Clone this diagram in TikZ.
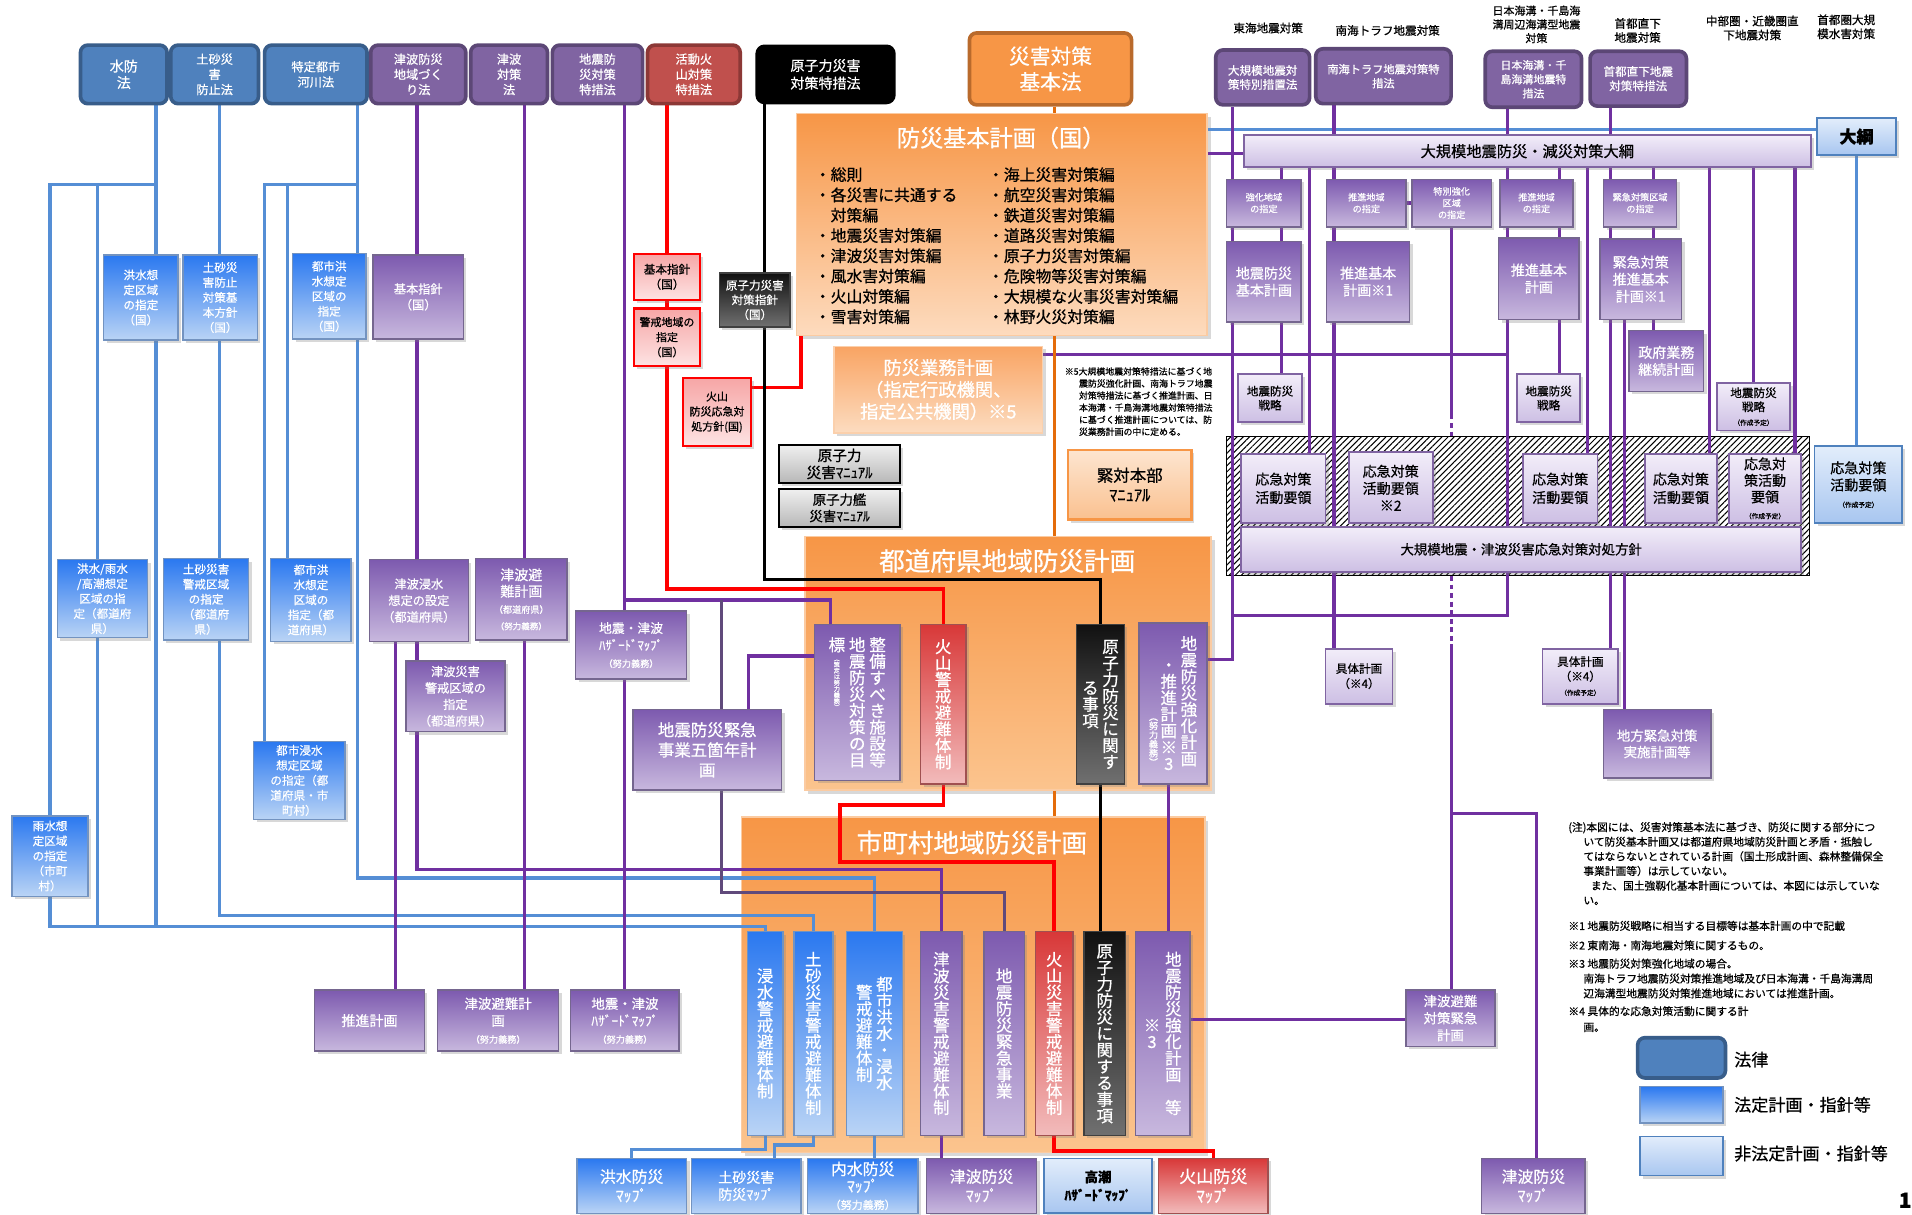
\documentclass[tikz,border=0pt]{standalone}
\usepackage{fontspec}
\setmainfont{Noto Sans CJK JP}[RawFeature={embolden=0.7}]
\usetikzlibrary{shadows,patterns.meta}
\pgfdeclarelayer{back}
\pgfdeclarelayer{wires}
\pgfsetlayers{back,wires,main}
\newcommand\fsz[2]{\fontsize{#1}{#2}\selectfont}
\makeatletter
% vertical (tategaki) columns: one character per 1em cell
\def\vt@end{\vt@end@}
\def\vt@loop#1{\ifx#1\vt@end\else\hbox to1em{\hss\vrule height.88em depth.12em width\z@\relax#1\hss}\expandafter\vt@loop\fi}
\newcommand\vcol[2][0em]{\vtop{\offinterlineskip\vskip#1\relax\vt@loop#2\vt@end}}
\newcommand\vcolhead[3]{\vtop{\offinterlineskip\vskip\z@\vt@loop#1\vt@end\kern2pt\hbox to1em{\hss{#2\vcol{#3}}\hss}}}
\makeatother
\newcommand\placebox[7]{\node[#2,minimum width={#5-#3},minimum height={#6-#4}] (#1) at ({(#3+#5)/2},{(#4+#6)/2}) {#7};}

\definecolor{lawBf}{HTML}{4F81BD}\definecolor{lawBd}{HTML}{385D8A}
\definecolor{lawPf}{HTML}{8064A2}\definecolor{lawPd}{HTML}{5C4776}
\definecolor{lawRf}{HTML}{C0504D}\definecolor{lawRd}{HTML}{8C3836}
\definecolor{lawOf}{HTML}{F79646}\definecolor{lawOd}{HTML}{B96A2C}
\definecolor{stBt}{HTML}{2A78F0}\definecolor{stBb}{HTML}{BAD4F5}\definecolor{stBd}{HTML}{7393C0}
\definecolor{stPt}{HTML}{7D5AAF}\definecolor{stPb}{HTML}{C8B8DE}\definecolor{stPd}{HTML}{75668F}
\definecolor{stRt}{HTML}{D83838}\definecolor{stRbot}{HTML}{F2BBBB}\definecolor{stRd}{HTML}{A05050}
\definecolor{stKt}{HTML}{111111}\definecolor{stKb}{HTML}{707070}
\definecolor{pkT}{HTML}{F6A6A6}\definecolor{pkB}{HTML}{FDE3E3}
\definecolor{nsPt}{HTML}{F2EDF9}\definecolor{nsPb}{HTML}{CDBFE4}\definecolor{nsPd}{HTML}{8064A2}
\definecolor{nsBt}{HTML}{E2EDFB}\definecolor{nsBb}{HTML}{A8C6F0}\definecolor{nsBd}{HTML}{4F81BD}
\definecolor{orT}{HTML}{F79646}\definecolor{orB}{HTML}{FBC48E}\definecolor{orBl}{HTML}{FDDBBE}
\definecolor{soT}{HTML}{F9A463}\definecolor{soB}{HTML}{FCDCC0}
\definecolor{moT}{HTML}{FDE5D0}\definecolor{moB}{HTML}{FAC190}
\definecolor{lnBc}{HTML}{558ED5}\definecolor{lnPc}{HTML}{7030A0}
\definecolor{lnPdc}{HTML}{604A7B}\definecolor{lnOc}{HTML}{E46C0A}

\tikzset{
  lawbase/.style={rounded corners=6pt,line width=3pt,text=white,align=center,inner sep=0pt,font=\fsz{10}{12.5}},
  lawB/.style={lawbase,draw=lawBd,fill=lawBf},
  lawP/.style={lawbase,draw=lawPd,fill=lawPf},
  lawR/.style={lawbase,draw=lawRd,fill=lawRf},
  lawK/.style={lawbase,draw=black,fill=black},
  lawO/.style={lawbase,draw=lawOd,fill=lawOf},
  sbase/.style={line width=1.2pt,align=center,inner sep=0pt,font=\fsz{9.5}{12.3},
    drop shadow={shadow xshift=2.5pt,shadow yshift=-2.5pt,opacity=.3}},
  stB/.style={sbase,draw=stBd,top color=stBt,bottom color=stBb,text=white},
  stP/.style={sbase,draw=stPd,top color=stPt,bottom color=stPb,text=white},
  stR/.style={sbase,draw=stRd,top color=stRt,bottom color=stRbot,text=white},
  stK/.style={sbase,draw=black!75,top color=stKt,bottom color=stKb,text=white},
  stPink/.style={sbase,draw=red,line width=1.8pt,top color=pkT,bottom color=pkB,text=black,font=\fsz{9.5}{12.3}},
  nsP/.style={sbase,draw=nsPd,line width=1.5pt,top color=nsPt,bottom color=nsPb,text=black},
  nsB/.style={sbase,draw=nsBd,line width=1.5pt,top color=nsBt,bottom color=nsBb,text=black},
  manK/.style={sbase,draw=black,line width=2pt,top color=black!6,bottom color=black!28,text=black},
  manO/.style={sbase,draw=lawOf,line width=2pt,top color=moT,bottom color=moB,text=black},
  softO/.style={sbase,draw=orT!45!white,top color=soT,bottom color=soB,text=white},
  bigO/.style={draw=orT!50!white,line width=1.2pt,top color=orT,bottom color=orB,
    drop shadow={shadow xshift=3pt,shadow yshift=-3pt,opacity=.3}},
  hatchst/.style={draw=black,line width=1pt,pattern={Lines[angle=45,distance=3.6pt,line width=0.85pt]}},
  lbl/.style={align=center,inner sep=0pt,font=\fsz{9.5}{11.5}},
  ttl/.style={text=white,inner sep=0pt},
  lnB/.style={draw=lnBc,line width=2.6pt},
  lnP/.style={draw=lnPc,line width=2.6pt},
  lnPd/.style={draw=lnPdc,line width=2.6pt},
  lnR/.style={draw=red,line width=2.8pt},
  lnK/.style={draw=black,line width=2.8pt},
  lnO/.style={draw=lnOc,line width=2.2pt},
  dashln/.style={dash pattern=on 4pt off 3pt}
}

\begin{document}
\begin{tikzpicture}[x=1pt,y=-1pt]
\useasboundingbox (0,0) rectangle (1568,996);

% ---------- large frames ----------
\begin{pgfonlayer}{back}
\fill[white] (0,0) rectangle (1568,996);
\placebox{kihonKeikaku}{bigO,bottom color=orBl}{653}{93}{990}{275}{}
\placebox{pref}{bigO}{660}{440}{993}{648}{}
\placebox{muni}{bigO}{608}{670}{988}{945}{}
\placebox{hatch}{hatchst}{1006}{358}{1484}{472}{}
\end{pgfonlayer}

% ---------- laws ----------
\placebox{lSuibo}{lawB,font=\fsz{11.5}{13.5}}{66}{37}{137}{85}{水防\\法}
\placebox{lDosha}{lawB}{140}{37}{212}{85}{土砂災\\害\\防止法}
\placebox{lToshi}{lawB}{217}{37}{301}{85}{特定都市\\河川法}
\placebox{lTsuChiiki}{lawP}{304}{37}{382}{85}{津波防災\\地域づく\\り法}
\placebox{lTsuTaisaku}{lawP}{386}{37}{449}{85}{津波\\対策\\法}
\placebox{lJishinTokuso}{lawP}{453}{37}{527}{85}{地震防\\災対策\\特措法}
\placebox{lKazan}{lawR}{531}{37}{607}{85}{活動火\\山対策\\特措法}
\placebox{lGenshi}{lawK,font=\fsz{11.5}{14.5}}{621}{38}{733}{84}{原子力災害\\対策特措法}
\placebox{lKihon}{lawO,font=\fsz{17}{21}}{795}{27}{928}{86}{災害対策\\基本法}
\placebox{lTokai}{lawP,font=\fsz{9.5}{11.5}}{997}{41}{1074}{86}{大規模地震対\\策特別措置法}
\placebox{lNankai}{lawP,font=\fsz{9.2}{11.5}}{1079}{40}{1190}{85}{南海トラフ地震対策特\\措法}
\placebox{lNihonkai}{lawP,font=\fsz{9}{11.6}}{1218}{42}{1297}{88}{日本海溝・千\\島海溝地震特\\措法}
\placebox{lShuto}{lawP,font=\fsz{9.5}{11.8}}{1304}{42}{1383}{87}{首都直下地震\\対策特措法}

\node[lbl] (tTokai) at (1040,23) {東海地震対策};
\node[lbl] (tNankai) at (1138,25) {南海トラフ地震対策};
\node[lbl,font=\fsz{9}{11.3}] (tNihonkai) at (1260,20) {日本海溝・千島海\\溝周辺海溝型地震\\対策};
\node[lbl] (tShuto) at (1343,25) {首都直下\\地震対策};
\node[lbl] (tChubu) at (1437,23) {中部圏・近畿圏直\\下地震対策};
\node[lbl] (tSuigai) at (1514,22) {首都圏大規\\模水害対策};

% ---------- national basic plan ----------
\node[ttl,font=\fsz{19}{22}] (kkTitle) at (821,113) {防災基本計画（国）};
\node[anchor=north west,align=left,inner sep=0pt,font=\fsz{13}{16.65}] (kkListL) at (668,137)
 {・総則\\・各災害に共通する\\\phantom{・}対策編\\・地震災害対策編\\・津波災害対策編\\・風水害対策編\\・火山対策編\\・雪害対策編};
\node[anchor=north west,align=left,inner sep=0pt,font=\fsz{13}{16.65}] (kkListR) at (810,137)
 {・海上災害対策編\\・航空災害対策編\\・鉄道災害対策編\\・道路災害対策編\\・原子力災害対策編\\・危険物等災害対策編\\・大規模な火事災害対策編\\・林野火災対策編};
\placebox{gyomu}{softO,font=\fsz{15}{18}}{684}{284}{855}{355}{防災業務計画\\（指定行政機関、\\指定公共機関）※5}
\node[anchor=north west,align=left,inner sep=0pt,font=\fsz{7.3}{9.9}] (note5) at (873,301)
 {※5大規模地震対策特措法に基づく地\\\hspace*{1.6em}震防災強化計画、南海トラフ地震\\\hspace*{1.6em}対策特措法に基づく推進計画、日\\\hspace*{1.6em}本海溝・千島海溝地震対策特措法\\\hspace*{1.6em}に基づく推進計画については、防\\\hspace*{1.6em}災業務計画の中に定める。};
\placebox{kintai}{manO,font=\fsz{13.5}{16}}{876}{369}{977}{426}{緊対本部\\ﾏﾆｭｱﾙ}

% ---------- national guidelines (left) ----------
\placebox{kozuiKoku}{stB}{85}{209}{146}{279}{洪水想\\定区域\\の指定\\（国）}
\placebox{doshaKoku}{stB}{150}{209}{211}{279}{土砂災\\害防止\\対策基\\本方針\\（国）}
\placebox{toshiKoku}{stB}{240}{208}{300}{278}{都市洪\\水想定\\区域の\\指定\\（国）}
\placebox{tsuKihon}{stP,font=\fsz{10}{13}}{306}{209}{380}{278}{基本指針\\（国）}
\placebox{kzKihon}{stPink}{520}{208}{574}{246}{基本指針\\（国）}
\placebox{kzKeikai}{stPink,font=\fsz{9}{12.3}}{520}{253}{574}{300}{警戒地域の\\指定\\（国）}
\placebox{kzOkyu}{stPink,font=\fsz{9}{12.3}}{560}{310}{616}{366}{火山\\防災応急対\\処方針(国)}
\placebox{gnShishin}{stK,font=\fsz{9.5}{12}}{590}{224}{648}{268}{原子力災害\\対策指針\\（国）}
\placebox{gnManual}{manK,font=\fsz{12}{14}}{639}{365}{738}{396}{原子力\\災害ﾏﾆｭｱﾙ}
\placebox{gnKan}{manK,font=\fsz{11}{13.5}}{639}{401}{738}{432}{原子力艦\\災害ﾏﾆｭｱﾙ}

% ---------- prefecture level (left) ----------
\placebox{kozuiPref}{stB}{47}{459}{121}{523}{洪水/雨水\\/高潮想定\\区域の指\\定（都道府\\県）}
\placebox{doshaPref}{stB}{134}{458}{204}{525}{土砂災害\\警戒区域\\の指定\\（都道府\\県）}
\placebox{toshiPref}{stB}{222}{458}{288}{526}{都市洪\\水想定\\区域の\\指定（都\\道府県）}
\placebox{toshiShinsui}{stB}{208}{608}{283}{672}{都市浸水\\想定区域\\の指定（都\\道府県・市\\町村）}
\placebox{usui}{stB}{10}{669}{72}{735}{雨水想\\定区域\\の指定\\（市町\\村）}
\placebox{tsuShinsui}{stP,font=\fsz{10}{13.5}}{303}{459}{384}{526}{津波浸水\\想定の設定\\（都道府県）}
\placebox{tsuHinanPref}{stP,font=\fsz{11.5}{13.5}}{390}{458}{465}{525}{津波避\\難計画\\{\fsz{7.5}{9.5}（都道府県）}\\{\fsz{7}{9}（努力義務）}}
\placebox{tsuKeikai}{stP,font=\fsz{10}{13.5}}{333}{542}{414}{600}{津波災害\\警戒区域の\\指定\\（都道府県）}
\placebox{hazPref}{stP,font=\fsz{10.5}{14}}{472}{501}{563}{557}{地震・津波\\ﾊｻﾞｰﾄﾞﾏｯﾌﾟ\\{\fsz{7.5}{9}（努力義務）}}
\placebox{gokanen}{stP,font=\fsz{13.5}{16.5}}{519}{582}{641}{648}{地震防災緊急\\事業五箇年計\\画}

% ---------- municipal level (left) ----------
\placebox{suishin}{stP,font=\fsz{11.5}{14}}{258}{812}{348}{862}{推進計画}
\placebox{tsuHinanMuni}{stP,font=\fsz{11}{14}}{359}{812}{458}{862}{津波避難計\\画\\{\fsz{7.5}{9}（努力義務）}}
\placebox{hazMuni}{stP,font=\fsz{11}{14}}{468}{812}{557}{862}{地震・津波\\ﾊｻﾞｰﾄﾞﾏｯﾌﾟ\\{\fsz{7.5}{9}（努力義務）}}

% ---------- prefectural plan ----------
\node[ttl,font=\fsz{21}{24}] (prefTitle) at (826,460) {都道府県地域防災計画};
\placebox{pMokuhyo}{stP,font=\fsz{13.5}{13.5}}{668}{512}{738}{640}{\hbox{\vcolhead{標}{\fsz{5}{5}}{︵策定は努力義務︶}\kern3.2pt\vcol{地震防災対策の目}\kern3.2pt\vcol{整備すべき施設等}}}
\placebox{pKazan}{stR,font=\fsz{13.5}{13.5}}{755}{512}{792}{643}{\vcol{火山警戒避難体制}}
\placebox{pGenshi}{stK,font=\fsz{13.5}{13.5}}{883}{512}{922}{643}{\hbox{\vcol[2.5em]{る事項}\kern3pt\vcol{原子力防災に関す}}}
\placebox{pKyoka}{stP,font=\fsz{13.5}{13.5}}{934}{511}{990}{643}{\hbox{{\fsz{7.5}{7.5}\vcol[8.4em]{︵努力義務︶}}\kern2pt\vcol[1.3em]{・推進計画※3}\kern3pt\vcol{地震防災強化計画}}}

% ---------- municipal plan ----------
\node[ttl,font=\fsz{21}{24}] (muniTitle) at (797,691) {市町村地域防災計画};
\placebox{mShinsui}{stB,font=\fsz{13.5}{13.5}}{613}{764}{642}{931}{\vcol{浸水警戒避難体制}}
\placebox{mDosha}{stB,font=\fsz{13.5}{13.5}}{651}{764}{683}{931}{\vcol{土砂災害警戒避難体制}}
\placebox{mToshi}{stB,font=\fsz{13.5}{13.5}}{694}{764}{740}{931}{\hbox{\vcol[0.5em]{警戒避難体制}\kern3pt\vcol{都市洪水・浸水}}}
\placebox{mTsunami}{stP,font=\fsz{13.5}{13.5}}{755}{764}{789}{931}{\vcol{津波災害警戒避難体制}}
\placebox{mGokanen}{stP,font=\fsz{13.5}{13.5}}{807}{764}{840}{931}{\vcol{地震防災緊急事業}}
\placebox{mKazan}{stR,font=\fsz{13.5}{13.5}}{849}{764}{880}{931}{\vcol{火山災害警戒避難体制}}
\placebox{mGenshi}{stK,font=\fsz{13.5}{13.5}}{889}{764}{923}{931}{\vcol{原子力防災に関する事項}}
\placebox{mKyoka}{stP,font=\fsz{13.5}{13.5}}{931}{764}{976}{931}{\hbox{\vcol[4em]{※3}\kern4pt\vcol{地震防災強化計画　等}}}

% ---------- hazard maps ----------
\placebox{mapKozui}{stB,font=\fsz{13}{15.5}}{473}{950}{563}{995}{洪水防災\\ﾏｯﾌﾟ}
\placebox{mapDosha}{stB,font=\fsz{11.5}{14}}{567}{950}{657}{995}{土砂災害\\防災ﾏｯﾌﾟ}
\placebox{mapNaisui}{stB,font=\fsz{13}{14}}{662}{950}{753}{995}{内水防災\\ﾏｯﾌﾟ\\{\fsz{9}{10}（努力義務）}}
\placebox{mapTsunami}{stP,font=\fsz{13}{15.5}}{760}{950}{850}{995}{津波防災\\ﾏｯﾌﾟ}
\placebox{mapTakashio}{nsB,font=\fsz{11}{15}\bfseries}{856}{950}{945}{995}{高潮\\ﾊｻﾞｰﾄﾞﾏｯﾌﾟ}
\placebox{mapKazan}{stR,font=\fsz{14}{16}}{950}{950}{1040}{995}{火山防災\\ﾏｯﾌﾟ}
\placebox{mapTsunami2}{stP,font=\fsz{13}{15.5}}{1215}{950}{1300}{995}{津波防災\\ﾏｯﾌﾟ}

% ---------- large-scale earthquake block (right) ----------
\placebox{taiko}{nsB,font=\fsz{14}{16}\bfseries}{1490}{97}{1555}{127}{大綱}
\placebox{taikoBar}{nsP,font=\fsz{12.5}{15}}{1020}{111}{1485}{137}{大規模地震防災・減災対策大綱}
\placebox{aShitei}{stP,font=\fsz{7.5}{9.6}}{1006}{147}{1067}{186}{強化地域\\の指定}
\placebox{aKihon}{stP,font=\fsz{11.5}{14}}{1006}{198}{1067}{264}{地震防災\\基本計画}
\placebox{aSenryaku}{nsP,font=\fsz{9.5}{11.5}}{1015}{307}{1068}{346}{地震防災\\戦略}
\placebox{bShitei}{stP,font=\fsz{7.5}{9.6}}{1088}{147}{1153}{186}{推進地域\\の指定}
\placebox{bTokubetsu}{stP,font=\fsz{7.5}{9.6}}{1158}{147}{1223}{186}{特別強化\\区域\\の指定}
\placebox{bKihon}{stP,font=\fsz{11.5}{14}}{1088}{198}{1156}{264}{推進基本\\計画※1}
\placebox{bGutai}{nsP,font=\fsz{9.5}{12.3}}{1087}{532}{1142}{577}{具体計画\\（※4）}
\placebox{cShitei}{stP,font=\fsz{7.5}{9.6}}{1230}{147}{1290}{186}{推進地域\\の指定}
\placebox{cKihon}{stP,font=\fsz{11.5}{14}}{1229}{195}{1295}{262}{推進基本\\計画}
\placebox{cSenryaku}{nsP,font=\fsz{9.5}{11.5}}{1244}{307}{1296}{346}{地震防災\\戦略}
\placebox{dShitei}{stP,font=\fsz{7.5}{9.6}}{1315}{147}{1375}{186}{緊急対策区域\\の指定}
\placebox{dKihon}{stP,font=\fsz{11.5}{14}}{1312}{196}{1379}{262}{緊急対策\\推進基本\\計画※1}
\placebox{dGyomu}{stP,font=\fsz{11.5}{14}}{1336}{271}{1397}{321}{政府業務\\継続計画}
\placebox{dGutai}{nsP,font=\fsz{9.5}{12}}{1265}{532}{1327}{577}{具体計画\\（※4）\\{\fsz{5.5}{7}（作成予定）}}
\placebox{dChiho}{stP,font=\fsz{11}{13.5}}{1315}{582}{1403}{638}{地方緊急対策\\実施計画等}
\placebox{eSenryaku}{nsP,font=\fsz{9.5}{11.5}}{1408}{314}{1468}{353}{地震防災\\戦略\\{\fsz{5.5}{7}（作成予定）}}
\placebox{h1}{nsP,font=\fsz{11.5}{15}}{1018}{372}{1087}{429}{応急対策\\活動要領}
\placebox{h2}{nsP,font=\fsz{11.5}{14}}{1106}{371}{1175}{429}{応急対策\\活動要領\\※2}
\placebox{h3}{nsP,font=\fsz{11.5}{15}}{1249}{372}{1310}{429}{応急対策\\活動要領}
\placebox{h4}{nsP,font=\fsz{11.5}{15}}{1349}{372}{1408}{429}{応急対策\\活動要領}
\placebox{h5}{nsP,font=\fsz{11.5}{13.5}}{1418}{372}{1477}{429}{応急対\\策活動\\要領\\{\fsz{5.5}{7}（作成予定）}}
\placebox{taisho}{nsP,font=\fsz{11}{13}}{1018}{432}{1477}{469}{大規模地震・津波災害応急対策対処方針}
\placebox{blueOkyu}{nsB,font=\fsz{11.5}{14}}{1488}{366}{1560}{429}{応急対策\\活動要領\\{\fsz{5.5}{7}（作成予定）}}
\placebox{tsuKinkyu}{stP,font=\fsz{11}{14}}{1153}{812}{1226}{858}{津波避難\\対策緊急\\計画}

% ---------- notes and legend ----------
\node[anchor=north west,align=left,inner sep=0pt,font=\fsz{8.8}{12}] (note0) at (1286,674)
 {(注)本図には、災害対策基本法に基づき、防災に関する部分につ\\\hspace*{1.4em}いて防災基本計画又は都道府県地域防災計画と矛盾・抵触し\\\hspace*{1.4em}てはならないとされている計画（国土形成計画、森林整備保全\\\hspace*{1.4em}事業計画等）は示していない。\\\hspace*{2.1em}また、国土強靱化基本計画については、本図には示していな\\\hspace*{1.4em}い。};
\node[anchor=north west,inner sep=0pt,font=\fsz{8.8}{12}] (note1) at (1286,755) {※1 地震防災戦略に相当する目標等は基本計画の中で記載};
\node[anchor=north west,inner sep=0pt,font=\fsz{8.8}{12}] (note2) at (1286,771) {※2 東南海・南海地震対策に関するもの。};
\node[anchor=north west,align=left,inner sep=0pt,font=\fsz{8.8}{12.2}] (note3) at (1286,786)
 {※3 地震防災対策強化地域の場合。\\\hspace*{1.4em}南海トラフ地震防災対策推進地域及び日本海溝・千島海溝周\\\hspace*{1.4em}辺海溝型地震防災対策推進地域においては推進計画。};
\node[anchor=north west,align=left,inner sep=0pt,font=\fsz{8.8}{13}] (note4) at (1286,825)
 {※4 具体的な応急対策活動に関する計\\\hspace*{1.4em}画。};
\placebox{legLaw}{lawB}{1343}{851}{1415}{884}{}
\placebox{legSt}{stB}{1345}{891}{1413}{921}{}
\placebox{legNs}{nsB}{1345}{932}{1413}{964}{}
\node[anchor=west,inner sep=0pt,font=\fsz{14}{16}] (legLawT) at (1422,869) {法律};
\node[anchor=west,inner sep=0pt,font=\fsz{14}{16}] (legStT) at (1422,906) {法定計画・指針等};
\node[anchor=west,inner sep=0pt,font=\fsz{14}{16}] (legNsT) at (1422,946) {非法定計画・指針等};
\node[anchor=north west,inner sep=0pt,font=\fsz{17}{17}\bfseries] (pageNo) at (1557,978) {1};

% ---------- connectors ----------
\begin{pgfonlayer}{wires}
\coordinate (jSuibo) at (128,151);
\coordinate (jToshi) at (293,151);
\coordinate (jJishin) at (512,492);
\coordinate (jGokanen) at (592,492);
\coordinate (jTokai) at (1011,505);
\coordinate (jTokubetsu) at (1190,667);
% flood / sediment / urban river (blue)
\draw[lnB] (lSuibo.south -| jSuibo) -- (kozuiKoku.north -| jSuibo);
\draw[lnB] (usui.north) |- (jSuibo);
\draw[lnB] (kozuiPref.north -| 80,0) |- (jSuibo);
\draw[lnB] (kozuiKoku.south -| jSuibo) -- (128,760);
\draw[lnB] (kozuiPref.south -| 80,0) -- (80,760);
\draw[lnB] (usui.south) |- (mShinsui.north |- 0,760) -- (mShinsui.north);
\draw[lnB] (lDosha.south -| 180,0) -- (doshaKoku.north -| 180,0);
\draw[lnB] (doshaKoku.south -| 180,0) -- (doshaPref.north -| 180,0);
\draw[lnB] (doshaPref.south -| 180,0) |- (mDosha.north |- 0,751) -- (mDosha.north);
\draw[lnB] (lToshi.south -| jToshi) -- (toshiKoku.north -| jToshi);
\draw[lnB] (toshiShinsui.north -| 217,0) |- (jToshi);
\draw[lnB] (toshiPref.north -| 236,0) |- (jToshi);
\draw[lnB] (toshiKoku.south -| jToshi) |- (mToshi.north |- 0,720) -- (mToshi.north);
\draw[lnB] (mShinsui.south) |- (mapKozui.north |- 0,943) -- (mapKozui.north);
\draw[lnB] (mDosha.south) |- (635,939) -- (mapDosha.north -| 635,0);
\draw[lnB] (mToshi.south) -- (mapNaisui.north -| mToshi.south);
\draw[lnB] (kihonKeikaku.east |- 0,106) -- (taiko.west |- 0,106);
\draw[lnB] (taiko.south) -- (blueOkyu.north -| taiko.south);
% tsunami / earthquake (purple)
\draw[lnP] (lTsuChiiki.south -| 342,0) -- (tsuKihon.north -| 342,0);
\draw[lnP] (tsuKihon.south -| 342,0) -- (tsuShinsui.north -| 342,0);
\draw[lnP] (tsuShinsui.south -| 342,0) -- (tsuKeikai.north -| 342,0);
\draw[lnP] (tsuKeikai.south -| 342,0) |- (mTsunami.north |- 0,713) -- (mTsunami.north);
\draw[lnP] (tsuShinsui.south -| 324,0) -- (suishin.north -| 324,0);
\draw[lnP] (lTsuTaisaku.south -| 430,0) -- (tsuHinanPref.north -| 430,0);
\draw[lnP] (tsuHinanPref.south -| 430,0) -- (tsuHinanMuni.north -| 430,0);
\draw[lnP] (lJishinTokuso.south -| jJishin) -- (hazPref.north -| jJishin);
\draw[lnP] (hazPref.south -| jJishin) -- (hazMuni.north -| jJishin);
\draw[lnP] (jJishin) -| (pMokuhyo.north -| 681,0);
\draw[lnPd] (jGokanen) -- (gokanen.north -| jGokanen);
\draw[lnPd] (gokanen.south -| jGokanen) |- (mGokanen.north |- 0,732) -- (mGokanen.north);
\draw[lnP] (pMokuhyo.west |- 0,538) -| (gokanen.north -| 614,0);
\draw[lnP] (mTsunami.south) -- (mapTsunami.north -| mTsunami.south);
\draw[lnP] (pKyoka.south -| 958,0) -- (mKyoka.north -| 958,0);
\draw[lnP] (pKyoka.east |- 0,541) -| (lTokai.south -| jTokai);
\draw[lnP] (jTokai) -| (lNihonkai.south -| 1236,0);
\draw[lnP] (gyomu.east |- 0,291) -- (1236,291);
\draw[lnP] (kihonKeikaku.east |- 0,126) -- (taikoBar.west |- 0,126);
\draw[lnP] (taikoBar.south -| 1051,0) -- (aSenryaku.north -| 1051,0);
\draw[lnP] (taikoBar.south -| 1074,0) -- (h1.north -| 1074,0);
\draw[lnP] (lNankai.south -| 1094,0) -- (bGutai.north -| 1094,0);
\draw[lnP] (bShitei.east) -- (bTokubetsu.west);
\draw[lnP] (bTokubetsu.south -| jTokubetsu) -- (1190,340);
\draw[lnP,dashln] (1190,340) -- (hatch.north -| jTokubetsu);
\draw[lnP,dashln] (hatch.south -| jTokubetsu) -- (1190,531);
\draw[lnP] (1190,531) -- (tsuKinkyu.north -| jTokubetsu);
\draw[lnP] (jTokubetsu) -| (mapTsunami2.north -| 1260,0);
\draw[lnP] (mKyoka.east |- 0,836) -- (tsuKinkyu.west |- 0,836);
\draw[lnP] (taikoBar.south -| 1279,0) -- (cSenryaku.north -| 1279,0);
\draw[lnP] (taikoBar.south -| 1302,0) -- (h3.north -| 1302,0);
\draw[lnP] (lShuto.south -| 1321,0) -- (dGutai.north -| 1321,0);
\draw[lnP] (dKihon.south -| 1332,0) -- (dChiho.north -| 1332,0);
\draw[lnP] (taikoBar.south -| 1356,0) -- (dGyomu.north -| 1356,0);
\draw[lnP] (taikoBar.south -| 1402,0) -- (h4.north -| 1402,0);
\draw[lnP] (taikoBar.south -| 1438,0) -- (eSenryaku.north -| 1438,0);
\draw[lnP] (taikoBar.south -| 1472,0) -- (h5.north -| 1472,0);
% volcano (red)
\draw[lnR] (lKazan.south -| kzKihon.north) -- (kzKihon.north);
\draw[lnR] (kzKihon.south) -- (kzKeikai.north);
\draw[lnR] (kzKeikai.south) |- (pKazan.north |- 0,483) -- (pKazan.north);
\draw[lnR] (kihonKeikaku.south -| 657,0) |- (kzOkyu.east |- 0,318);
\draw[lnR] (pKazan.south) |- (689,660) |- (mKazan.north |- 0,707) -- (mKazan.north);
\draw[lnR] (mKazan.south) |- (mapKazan.north |- 0,944) -- (mapKazan.north);
% nuclear (black)
\draw[lnK] (lGenshi.south -| 627,0) -- (gnShishin.north -| 627,0);
\draw[lnK] (gnShishin.south -| 627,0) |- (pGenshi.north |- 0,475) -- (pGenshi.north);
\draw[lnK] (pGenshi.south) -- (mGenshi.north -| pGenshi.south);
% basic act (orange)
\draw[lnO] (lKihon.south -| 865,0) -- (kihonKeikaku.north -| 865,0);
\draw[lnO] (kihonKeikaku.south -| 865,0) -- (pref.north -| 865,0);
\draw[lnO] (pref.south -| 865,0) -- (muni.north -| 865,0);
\end{pgfonlayer}
\end{tikzpicture}
\end{document}
